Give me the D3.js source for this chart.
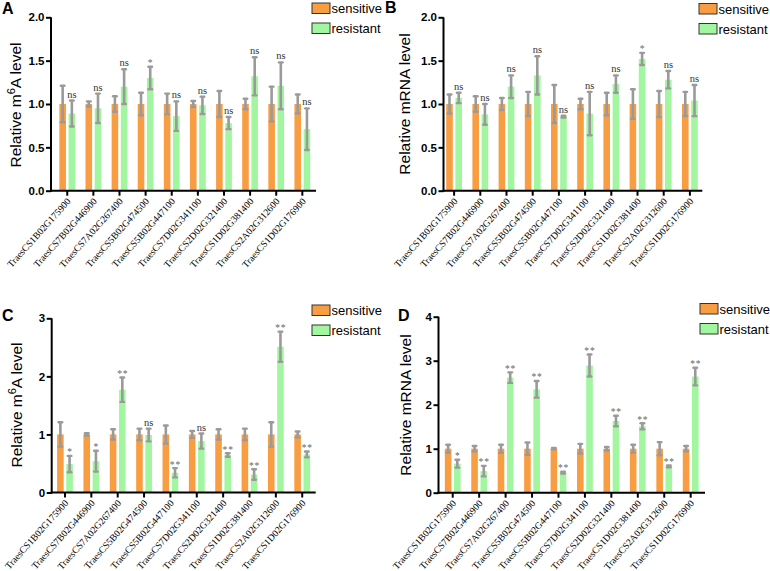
<!DOCTYPE html>
<html>
<head>
<meta charset="utf-8">
<script src="https://cdn.jsdelivr.net/npm/d3@7/dist/d3.min.js"></script>
<style>
  html, body { margin: 0; padding: 0; background: #fff; }
  svg { display: block; }
</style>
</head>
<body>
<svg id="chart" width="770" height="571"></svg>
<script>
// ---------------- DATA ----------------
const categories = [
  "TraesCS1B02G175900", "TraesCS7B02G446900", "TraesCS7A02G267400", "TraesCS5B02G474500",
  "TraesCS5B02G447100", "TraesCS7D02G341100", "TraesCS2D02G321400", "TraesCS1D02G381400",
  "TraesCS2A02G312600", "TraesCS1D02G176900"
];
const seriesNames = ["sensitive", "resistant"];

// Panel A: m6A level
const aSensitive    = [1, 1, 1, 1, 1, 1, 1, 1, 1, 1];
const aSensitiveErr = [0.21, 0.03, 0.09, 0.13, 0.12, 0.035, 0.15, 0.06, 0.20, 0.11];
const aResistant    = [0.89, 0.95, 1.20, 1.30, 0.86, 0.985, 0.78, 1.32, 1.21, 0.71];
const aResistantErr = [0.15, 0.17, 0.20, 0.13, 0.17, 0.10, 0.07, 0.22, 0.27, 0.24];
const aSig          = ["ns", "ns", "ns", "*", "ns", "ns", "ns", "ns", "ns", "ns"];

// Panel B: mRNA level
const bSensitive    = [1, 1, 1, 1, 1, 1, 1, 1, 1, 1];
const bSensitiveErr = [0.11, 0.09, 0.07, 0.14, 0.22, 0.06, 0.13, 0.17, 0.15, 0.14];
const bResistant    = [1.07, 0.88, 1.20, 1.33, 0.855, 0.89, 1.23, 1.52, 1.28, 1.04];
const bResistantErr = [0.06, 0.12, 0.13, 0.22, 0.01, 0.25, 0.10, 0.07, 0.10, 0.18];
const bSig          = ["ns", "ns", "ns", "ns", "ns", "ns", "ns", "*", "ns", "ns"];

// Panel C: m6A level
const cSensitive    = [1, 1, 1, 1, 1, 1, 1, 1, 1, 1];
const cSensitiveErr = [0.21, 0.02, 0.09, 0.10, 0.155, 0.06, 0.09, 0.10, 0.21, 0.05];
const cResistant    = [0.49, 0.54, 1.77, 0.99, 0.34, 0.885, 0.645, 0.31, 2.51, 0.655];
const cResistantErr = [0.14, 0.18, 0.21, 0.11, 0.08, 0.13, 0.03, 0.09, 0.26, 0.05];
const cSig          = ["*", "*", "**", "ns", "**", "ns", "**", "**", "**", "**"];

// Panel D: mRNA level
const dSensitive    = [1, 1, 1, 1, 1, 1, 1, 1, 1, 1];
const dSensitiveErr = [0.09, 0.06, 0.09, 0.14, 0.015, 0.11, 0.04, 0.09, 0.15, 0.06];
const dResistant    = [0.66, 0.49, 2.615, 2.35, 0.455, 2.89, 1.63, 1.51, 0.60, 2.64];
const dResistantErr = [0.09, 0.12, 0.12, 0.19, 0.02, 0.25, 0.12, 0.07, 0.02, 0.20];
const dSig          = ["*", "**", "**", "**", "**", "**", "**", "**", "**", "**"];

// Y tick values
const ticksAB = [0, 0.5, 1.0, 1.5, 2.0];
const ticksC  = [0, 1, 2, 3];
const ticksD  = [0, 1, 2, 3, 4];

// ---------------- STYLE / LAYOUT ----------------
const colors = { sensitive: "#F99D42", resistant: "#A2F6A0" };
const errColor = "#9a9a9a";

const panels = [
  { letter: "A", labelMain: ["Relative m", "6", "A level"], sens: aSensitive, sensErr: aSensitiveErr,
    res: aResistant, resErr: aResistantErr, sig: aSig, yMax: 2, ticks: ticksAB, fmt: d3.format(".1f"),
    axisX: 51, axisEnd: 316, band: [54.2, 315.4], yRange: [190.7, 17.3],
    letterPos: [2, 14], ylab: [21, 105], legend: [312, 3] },
  { letter: "B", labelMain: ["Relative mRNA level"], sens: bSensitive, sensErr: bSensitiveErr,
    res: bResistant, resErr: bResistantErr, sig: bSig, yMax: 2, ticks: ticksAB, fmt: d3.format(".1f"),
    axisX: 443.5, axisEnd: 702.3, band: [441, 703], yRange: [190.7, 17.3],
    letterPos: [385, 12.5], ylab: [410, 104], legend: [699, 3.5] },
  { letter: "C", labelMain: ["Relative m", "6", "A level"], sens: cSensitive, sensErr: cSensitiveErr,
    res: cResistant, resErr: cResistantErr, sig: cSig, yMax: 3, ticks: ticksC, fmt: d3.format("d"),
    axisX: 51.7, axisEnd: 315.7, band: [51.8, 315.4], yRange: [492.5, 318.3],
    letterPos: [2, 321], ylab: [22, 405], legend: [312, 305] },
  { letter: "D", labelMain: ["Relative mRNA level"], sens: dSensitive, sensErr: dSensitiveErr,
    res: dResistant, resErr: dResistantErr, sig: dSig, yMax: 4, ticks: ticksD, fmt: d3.format("d"),
    axisX: 438.5, axisEnd: 705, band: [439.5, 703.9], yRange: [492.7, 316.7],
    letterPos: [398, 321], ylab: [411, 405], legend: [700, 303.5] }
];

const svg = d3.select("#chart");

panels.forEach(p => {
  const g = svg.append("g");
  const x = d3.scaleBand().domain(categories).range(p.band);
  const y = d3.scaleLinear().domain([0, p.yMax]).range(p.yRange);
  const barW = 6.6, gap = 2.6;

  // panel letter
  g.append("text").attr("x", p.letterPos[0]).attr("y", p.letterPos[1])
    .attr("font-family", "Liberation Sans, Arial, sans-serif").attr("font-weight", "bold")
    .attr("font-size", 16).attr("fill", "#000").text(p.letter);

  // y-axis label
  const yl = g.append("text")
    .attr("transform", `translate(${p.ylab[0]},${p.ylab[1]}) rotate(-90)`)
    .attr("text-anchor", "middle")
    .attr("font-family", "Liberation Sans, Arial, sans-serif")
    .attr("font-size", 15.5).attr("fill", "#000");
  if (p.labelMain.length === 3) {
    yl.append("tspan").text(p.labelMain[0]);
    yl.append("tspan").attr("dy", -6).attr("font-size", 11).text(p.labelMain[1]);
    yl.append("tspan").attr("dy", 6).text(p.labelMain[2]);
  } else {
    yl.append("tspan").text(p.labelMain[0]);
  }

  // bars
  const sensX = d => x(d) + x.bandwidth() / 2 - gap / 2 - barW;
  const resX = d => x(d) + x.bandwidth() / 2 + gap / 2;
  g.selectAll(".bs").data(categories).join("rect")
    .attr("x", d => sensX(d)).attr("width", barW)
    .attr("y", (d, i) => y(p.sens[i])).attr("height", (d, i) => y(0) - y(p.sens[i]))
    .attr("fill", colors.sensitive);
  g.selectAll(".br").data(categories).join("rect")
    .attr("x", d => resX(d)).attr("width", barW)
    .attr("y", (d, i) => y(p.res[i])).attr("height", (d, i) => y(0) - y(p.res[i]))
    .attr("fill", colors.resistant);

  // error bars
  function errBars(cx, vals, errs) {
    categories.forEach((c, i) => {
      const xc = cx(c) + barW / 2;
      const top = y(vals[i] + errs[i]), bot = y(vals[i] - errs[i]);
      g.append("line").attr("x1", xc).attr("x2", xc).attr("y1", top).attr("y2", bot)
        .attr("stroke", errColor).attr("stroke-width", 2.6);
      [top, bot].forEach(yy => {
        g.append("line").attr("x1", xc - 1.8).attr("x2", xc + 1.8).attr("y1", yy).attr("y2", yy)
          .attr("stroke", errColor).attr("stroke-width", 2.4).attr("stroke-linecap", "round");
      });
    });
  }
  errBars(sensX, p.sens, p.sensErr);
  errBars(resX, p.res, p.resErr);

  // significance labels
  categories.forEach((c, i) => {
    const s = p.sig[i];
    if (!s) return;
    const xc = resX(c) + barW / 2;
    const top = y(p.res[i] + p.resErr[i]);
    const isNs = s === "ns";
    g.append("text").attr("x", xc + (isNs ? 0 : 0.4)).attr("y", isNs ? top - 3 : top - 0.5)
      .attr("text-anchor", "middle")
      .attr("font-family", "Liberation Serif, Times New Roman, serif")
      .attr("font-size", isNs ? 10.5 : 9.5)
      .attr("letter-spacing", isNs ? 0 : 0.8)
      .attr("fill", isNs ? "#333" : "#666")
      .text(s);
  });

  // y axis
  const yAxis = d3.axisLeft(y).tickValues(p.ticks).tickFormat(p.fmt).tickSize(5).tickSizeOuter(0);
  const ya = g.append("g").attr("transform", `translate(${p.axisX},0)`).call(yAxis);
  ya.select(".domain").attr("stroke", "#000").attr("stroke-width", 2)
    .attr("d", `M0,${p.yRange[0] + 1}V${p.yRange[1]}`);
  ya.selectAll(".tick line").attr("stroke", "#000").attr("stroke-width", 2);
  ya.selectAll(".tick text").attr("font-family", "Liberation Sans, Arial, sans-serif")
    .attr("font-weight", "bold").attr("font-size", 11.5).attr("fill", "#000").attr("x", -6.5);

  // x axis
  const xAxis = d3.axisBottom(x).tickSize(5).tickSizeOuter(0);
  const xa = g.append("g").attr("transform", `translate(0,${p.yRange[0]})`).call(xAxis);
  xa.select(".domain").attr("stroke", "#000").attr("stroke-width", 2)
    .attr("d", `M${p.axisX - 1},0H${p.axisEnd}`);
  xa.selectAll(".tick line").attr("stroke", "#000").attr("stroke-width", 2);
  xa.selectAll(".tick text")
    .attr("font-family", "Liberation Serif, Times New Roman, serif")
    .attr("font-size", 9.6).attr("fill", "#000")
    .attr("text-anchor", "end")
    .attr("y", 0).attr("dy", 0)
    .attr("transform", "translate(4,11) rotate(-48)");

  // legend
  seriesNames.forEach((s, i) => {
    const lx = p.legend[0], ly = p.legend[1] + i * 20;
    g.append("rect").attr("x", lx).attr("y", ly).attr("width", 18).attr("height", 10.5)
      .attr("fill", colors[s]).attr("stroke", "#333").attr("stroke-width", 1);
    g.append("text").attr("x", lx + 19.5).attr("y", ly + 10)
      .attr("font-family", "Liberation Sans, Arial, sans-serif").attr("font-size", 13)
      .attr("fill", "#000").text(s);
  });
});
</script>
</body>
</html>
